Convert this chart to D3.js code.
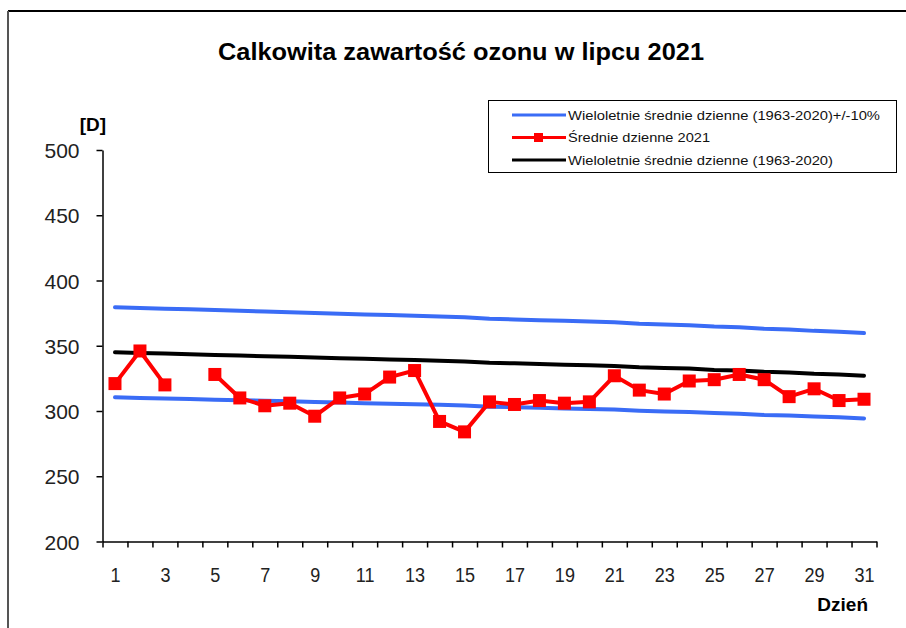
<!DOCTYPE html>
<html>
<head>
<meta charset="utf-8">
<script src="https://cdn.jsdelivr.net/npm/d3@7"></script>
<style>
  body { margin: 0; background: #fff; }
  svg { display: block; font-family: "Liberation Sans", Arial, sans-serif; }
  .axis path, .axis line { stroke: #000; stroke-width: 1.5; }
  .axis text { fill: #222; }
  .line { fill: none; stroke-width: 4; stroke-linejoin: round; stroke-linecap: round; }
</style>
</head>
<body>
<svg width="906" height="628"></svg>
<script>
// days of July 2021
const days = d3.range(1, 32);

// daily means 2021 (null = no measurement)
const daily2021 = [321, 346, 320, null, 328, 310, 304, 306, 296, 310,
  313, 326, 331, 292, 284, 307, 305, 308, 306, 307,
  327, 316, 313, 323, 324, 328, 324, 311, 317, 308, 309];

// long-term daily means 1963-2020
const longTerm = [345, 344.5, 344, 343.5, 343, 342.5, 342, 341.5, 341, 340.5,
  340, 339.5, 339, 338.5, 338, 337, 336.5, 336, 335.5, 335,
  334.5, 333.5, 333, 332.5, 331.5, 331, 330, 329.5, 328.5, 328, 327];

// long-term +10% and -10%
const upper10 = [379.5, 379, 378.4, 377.9, 377.3, 376.8, 376.2, 375.7, 375.1, 374.6,
  374, 373.5, 372.9, 372.4, 371.8, 370.7, 370.2, 369.6, 369.1, 368.5,
  368, 366.9, 366.3, 365.8, 364.7, 364.1, 363, 362.5, 361.4, 360.8, 359.7];
const lower10 = [310.5, 310, 309.6, 309.2, 308.7, 308.3, 307.8, 307.4, 306.9, 306.5,
  306, 305.6, 305.1, 304.7, 304.2, 303.3, 302.9, 302.4, 302, 301.5,
  301.1, 300.2, 299.7, 299.3, 298.4, 297.9, 297, 296.6, 295.7, 295.2, 294.3];

const yTicks = [200, 250, 300, 350, 400, 450, 500];
const xLabels = d3.range(1, 32, 2);

const svg = d3.select("svg");

// chart border (runs off the right/bottom edge)
svg.append("line").attr("x1", 8).attr("y1", 11).attr("x2", 906).attr("y2", 11)
    .attr("stroke", "#000").attr("stroke-width", 2);
svg.append("line").attr("x1", 8).attr("y1", 11).attr("x2", 8).attr("y2", 628)
    .attr("stroke", "#555").attr("stroke-width", 2);

const xScale = d3.scaleLinear().domain([0.5, 31.5]).range([102.5, 876.5]);
const yScale = d3.scaleLinear().domain([200, 500]).range([541.5, 150]);

// title
svg.append("text")
    .attr("x", 461).attr("y", 60)
    .attr("text-anchor", "middle")
    .attr("font-weight", "bold")
    .attr("font-size", 23)
    .attr("textLength", 486)
    .attr("lengthAdjust", "spacingAndGlyphs")
    .text("Calkowita zawartość ozonu w lipcu 2021");

// y axis
svg.append("g")
    .attr("class", "axis")
    .attr("transform", "translate(" + xScale(0.5) + ",0)")
    .call(d3.axisLeft(yScale).tickValues(yTicks).tickSize(6).tickSizeOuter(0).tickPadding(17))
    .call(g => g.selectAll("text").attr("font-size", 21).attr("dy", "0.36em"));

// x axis: ticks between categories
svg.append("g")
    .attr("class", "axis")
    .attr("transform", "translate(0," + yScale(200) + ")")
    .call(d3.axisBottom(xScale).tickValues(d3.range(0.5, 32, 1)).tickFormat("").tickSize(6).tickSizeOuter(0));

// x labels on odd days (slightly condensed like the original)
svg.append("g")
    .attr("class", "axis")
    .attr("transform", "translate(0," + yScale(200) + ")")
    .call(d3.axisBottom(xScale).tickValues(xLabels).tickSize(0).tickPadding(26))
    .call(g => g.select(".domain").remove())
    .call(g => g.selectAll("text").attr("font-size", 21).attr("transform", "scale(0.86,1)"));

// axis titles
svg.append("text").attr("x", 93).attr("y", 131)
    .attr("text-anchor", "middle").attr("font-weight", "bold").attr("font-size", 19)
    .text("[D]");
svg.append("text").attr("x", 868).attr("y", 611)
    .attr("text-anchor", "end").attr("font-weight", "bold").attr("font-size", 19)
    .text("Dzień");

const line = d3.line()
    .defined(function(d) { return d.v != null; })
    .x(function(d) { return xScale(d.day); })
    .y(function(d) { return yScale(d.v); });

function pairs(values) {
  return days.map(function(day, i) { return {day: day, v: values[i]}; });
}

svg.append("path").attr("class", "line").attr("stroke", "#3a6cf6").attr("d", line(pairs(upper10)));
svg.append("path").attr("class", "line").attr("stroke", "#3a6cf6").attr("d", line(pairs(lower10)));
svg.append("path").attr("class", "line").attr("stroke", "#000").attr("d", line(pairs(longTerm)));
svg.append("path").attr("class", "line").attr("stroke", "#ff0000").attr("stroke-linecap", "butt")
    .attr("d", line(pairs(daily2021)));

svg.append("g").attr("fill", "#ff0000")
  .selectAll("rect")
  .data(pairs(daily2021).filter(function(d) { return d.v != null; }))
  .enter().append("rect")
    .attr("x", function(d) { return xScale(d.day) - 6.5; })
    .attr("y", function(d) { return yScale(d.v) - 6.5; })
    .attr("width", 13)
    .attr("height", 13);

// legend
const legend = svg.append("g");
legend.append("rect")
    .attr("x", 488.5).attr("y", 100.5).attr("width", 408).attr("height", 72)
    .attr("fill", "#fff").attr("stroke", "#000").attr("stroke-width", 1);

const legendItems = [
  {label: "Wieloletnie średnie dzienne (1963-2020)+/-10%", color: "#3a6cf6", marker: false, len: 312},
  {label: "Średnie dzienne 2021", color: "#ff0000", marker: true, len: 142},
  {label: "Wieloletnie średnie dzienne (1963-2020)", color: "#000", marker: false, len: 265}
];

legendItems.forEach(function(item, i) {
  const y = 115 + i * 22.5;
  legend.append("line")
      .attr("x1", 512).attr("x2", 566).attr("y1", y).attr("y2", y)
      .attr("stroke", item.color).attr("stroke-width", 3);
  if (item.marker) {
    legend.append("rect").attr("x", 534).attr("y", y - 4.5).attr("width", 9).attr("height", 9)
        .attr("fill", item.color);
  }
  legend.append("text")
      .attr("x", 568).attr("y", y).attr("dy", "0.36em")
      .attr("font-size", 13.5)
      .attr("textLength", item.len)
      .attr("lengthAdjust", "spacingAndGlyphs")
      .attr("fill", "#111")
      .text(item.label);
});
</script>
</body>
</html>
